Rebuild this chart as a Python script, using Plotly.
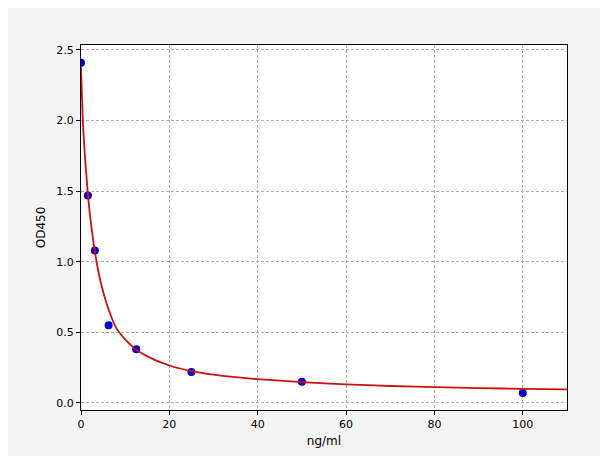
import plotly.graph_objects as go

conc = [0, 1.56, 3.125, 6.25, 12.5, 25, 50, 100]
od = [2.41, 1.47, 1.08, 0.55, 0.38, 0.22, 0.15, 0.07]

curve_x = [0, 0.5, 1, 1.5, 2, 3, 4, 5, 6.5, 8, 10, 12, 15, 20, 25, 30, 40, 50, 60, 70, 80, 90, 100, 110]
curve_y = [2.38, 1.95, 1.7, 1.5, 1.34, 1.1, 0.92, 0.79, 0.64, 0.53, 0.45, 0.39, 0.33, 0.265, 0.225, 0.2, 0.168, 0.148, 0.132, 0.12, 0.112, 0.105, 0.1, 0.096]

fig = go.Figure()
fig.add_trace(go.Scatter(x=conc, y=od, mode="markers",
                         marker=dict(color="#0000cc", size=8), showlegend=False))
fig.add_trace(go.Scatter(x=curve_x, y=curve_y, mode="lines", line_shape="spline",
                         line=dict(color="#cc1111", width=1.8), showlegend=False))

axis = dict(showline=True, linecolor="black", mirror=True, ticks="outside",
            ticklen=4, tickcolor="black", showgrid=True, gridcolor="#b0b0b0",
            griddash="3px,2px", gridwidth=1, zeroline=False, automargin=False,
            tickfont=dict(family="DejaVu Sans", size=11, color="black"))
fig.update_xaxes(axis, range=[0, 110], tickvals=[0, 20, 40, 60, 80, 100],
                 title=dict(text="ng/ml", font=dict(family="DejaVu Sans", size=12, color="black"), standoff=6))
fig.update_yaxes(axis, range=[-0.05, 2.535], tickvals=[0, 0.5, 1, 1.5, 2, 2.5],
                 tickformat=".1f",
                 title=dict(text="OD450", font=dict(family="DejaVu Sans", size=12, color="black"), standoff=8))
fig.update_layout(width=608, height=456, paper_bgcolor="#f4f4f4", plot_bgcolor="white",
                  margin=dict(l=73, r=49, t=37, b=54))
fig.write_html("out.html")
